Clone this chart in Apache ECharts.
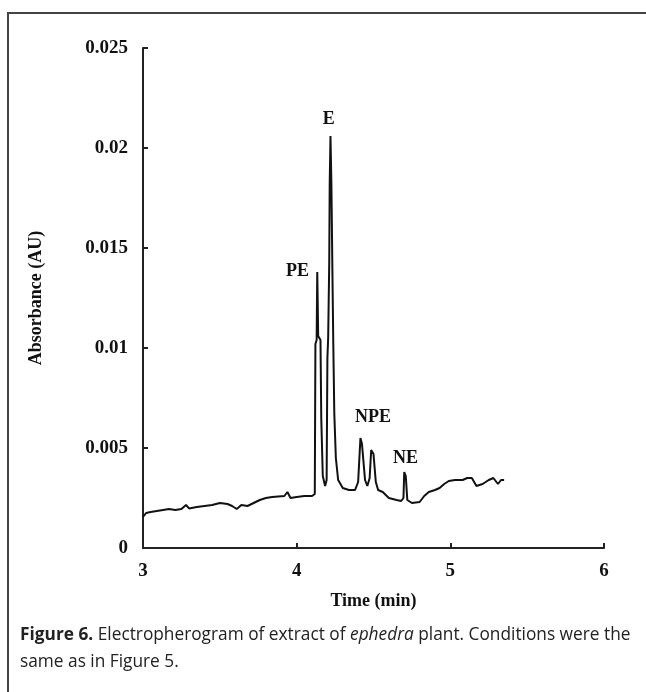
<!DOCTYPE html>
<html>
<head>
<meta charset="utf-8">
<script src="https://cdn.jsdelivr.net/npm/echarts@6/dist/echarts.min.js"></script>
<style>
  html, body { margin: 0; padding: 0; background: #fff; }
  #chart { width: 646px; height: 692px; }
</style>
</head>
<body>
<div id="chart"></div>
<script>
// migration time (min) and absorbance (AU)
var times = [
  3.00, 3.02, 3.05, 3.09, 3.13, 3.17, 3.21, 3.25, 3.28, 3.30,
  3.35, 3.40, 3.45, 3.50, 3.55, 3.58, 3.61, 3.64, 3.68, 3.72,
  3.76, 3.80, 3.84, 3.88, 3.92, 3.94, 3.96, 4.00, 4.05, 4.10,
  4.118, 4.122, 4.130, 4.134, 4.140, 4.155, 4.160, 4.170, 4.185, 4.195,
  4.200, 4.205, 4.212, 4.215, 4.220, 4.226, 4.232, 4.238, 4.245, 4.255,
  4.27, 4.30, 4.34, 4.38, 4.40, 4.415, 4.425, 4.445, 4.46, 4.475,
  4.485, 4.50, 4.515, 4.53, 4.56, 4.60, 4.65, 4.68, 4.695, 4.70,
  4.71, 4.72, 4.75, 4.80, 4.83, 4.86, 4.90, 4.93, 4.96, 4.99,
  5.03, 5.08, 5.11, 5.14, 5.17, 5.21, 5.25, 5.28, 5.31, 5.33, 5.35
];
var absorbance = [
  0.00155, 0.00175, 0.0018, 0.00185, 0.0019, 0.00195, 0.0019, 0.00195, 0.00215, 0.00198,
  0.00205, 0.0021, 0.00215, 0.00225, 0.0022, 0.0021, 0.00195, 0.00215, 0.0021, 0.00225,
  0.0024, 0.0025, 0.00255, 0.00258, 0.0026, 0.0028, 0.0025, 0.00255, 0.0026, 0.0026,
  0.0027, 0.0102, 0.0104, 0.0138, 0.0106, 0.0104, 0.0065, 0.0036, 0.0031, 0.0034,
  0.0095, 0.0105, 0.0143, 0.0182, 0.0206, 0.0182, 0.0142, 0.0104, 0.0067, 0.0045,
  0.0034, 0.0030, 0.0029, 0.0029, 0.0033, 0.0055, 0.0052, 0.0034, 0.0031, 0.0035,
  0.0049, 0.0047, 0.0033, 0.0029, 0.0028, 0.0025, 0.0024, 0.00235, 0.0025, 0.0038,
  0.0036, 0.0024, 0.00225, 0.0023, 0.0026, 0.0028, 0.0029, 0.0030, 0.0032, 0.00335,
  0.0034, 0.0034, 0.0035, 0.0035, 0.0031, 0.0032, 0.0034, 0.0035, 0.0032, 0.0034, 0.0034
];

// peak names and where the text sits
var peakNames = ['PE', 'E', 'NPE', 'NE'];
var peakTimes = [4.006, 4.208, 4.497, 4.708];
var peakLevels = [0.01385, 0.02145, 0.00655, 0.0045];

var xTicks = [3, 4, 5, 6];
var yTicks = [0, 0.005, 0.01, 0.015, 0.02, 0.025];

var myChart = echarts.init(document.getElementById('chart'));
var serif = 'Liberation Serif, Times New Roman, serif';
var captionFont = 'Open Sans, sans-serif';

var option = {
    backgroundColor: '#fff',
    animation: false,
    grid: {
        left: 143,
        right: 42,
        top: 48,
        bottom: 144
    },
    xAxis: {
        type: 'value',
        min: xTicks[0],
        max: xTicks[xTicks.length - 1],
        interval: 1,
        name: 'Time (min)',
        nameLocation: 'middle',
        nameGap: 44,
        nameTextStyle: { fontFamily: serif, fontWeight: 'bold', fontSize: 18, color: '#111' },
        axisLine: { lineStyle: { color: '#222', width: 2 } },
        axisTick: { inside: true, length: 5, lineStyle: { color: '#222', width: 2 } },
        axisLabel: { fontFamily: serif, fontWeight: 'bold', fontSize: 19, color: '#111', margin: 14 },
        splitLine: { show: false }
    },
    yAxis: {
        type: 'value',
        min: yTicks[0],
        max: yTicks[yTicks.length - 1],
        interval: 0.005,
        name: 'Absorbance (AU)',
        nameLocation: 'middle',
        nameGap: 98,
        nameRotate: 90,
        nameTextStyle: { fontFamily: serif, fontWeight: 'bold', fontSize: 18, color: '#111' },
        axisLine: { show: true, lineStyle: { color: '#222', width: 2 } },
        axisTick: { show: true, inside: true, length: 5, lineStyle: { color: '#222', width: 2 } },
        axisLabel: {
            fontFamily: serif, fontWeight: 'bold', fontSize: 19, color: '#111', margin: 15,
            formatter: function (v) { return String(+v.toFixed(3)); }
        },
        splitLine: { show: false }
    },
    series: [{
        type: 'line',
        data: times.map(function (t, i) { return [t, absorbance[i]]; }),
        symbol: 'none',
        lineStyle: { color: '#111', width: 2 },
        markPoint: {
            symbol: 'circle',
            symbolSize: 0,
            label: {
                show: true,
                position: 'inside',
                fontFamily: serif,
                fontWeight: 'bold',
                fontSize: 18,
                color: '#111',
                formatter: function (p) { return p.name; }
            },
            data: peakNames.map(function (n, i) {
                return { name: n, coord: [peakTimes[i], peakLevels[i]] };
            })
        }
    }],
    graphic: [
        {
            type: 'polyline',
            shape: { points: [[8, 692], [8, 13], [646, 13]] },
            style: { stroke: '#444', lineWidth: 2, fill: null }
        },
        {
            type: 'text',
            x: 20,
            y: 626,
            scaleX: 0.96,
            style: {
                text: '{b|Figure 6.} Electropherogram of extract of {i|ephedra} plant. Conditions were the',
                font: '18px ' + captionFont,
                fill: '#222',
                verticalAlign: 'top',
                rich: {
                    b: { fontFamily: captionFont, fontSize: 18, fontWeight: 'bold', fill: '#222' },
                    i: { fontFamily: captionFont, fontSize: 18, fontStyle: 'italic', fill: '#222' }
                }
            }
        },
        {
            type: 'text',
            x: 20,
            y: 653,
            scaleX: 0.96,
            style: {
                text: 'same as in Figure 5.',
                font: '18px ' + captionFont,
                fill: '#222',
                verticalAlign: 'top'
            }
        }
    ]
};
myChart.setOption(option);
</script>
</body>
</html>
